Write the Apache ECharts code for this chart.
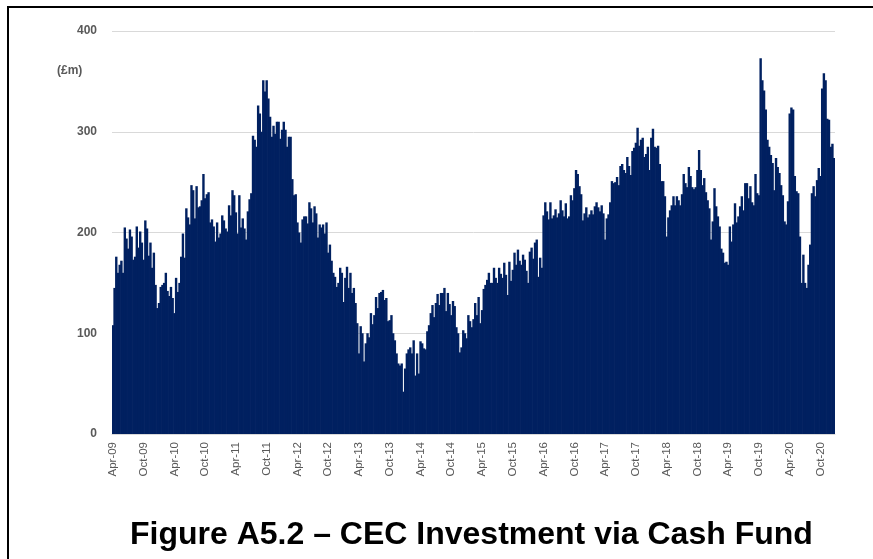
<!DOCTYPE html>
<html>
<head>
<meta charset="utf-8">
<script src="https://cdn.jsdelivr.net/npm/echarts@6/dist/echarts.min.js"></script>
<style>
    html, body { margin: 0; padding: 0; background: #fff; }
    #chart { width: 873px; height: 559px; }
</style>
</head>
<body>
<div id="chart"></div>
<script>
'use strict';

// month names, three readings per month (Apr-09 .. Dec-20)
const monthNames = ['Jan', 'Feb', 'Mar', 'Apr', 'May', 'Jun', 'Jul', 'Aug', 'Sep', 'Oct', 'Nov', 'Dec'];
const tickLabels = ['Apr-09', 'Oct-09', 'Apr-10', 'Oct-10', 'Apr-11', 'Oct-11', 'Apr-12', 'Oct-12',
    'Apr-13', 'Oct-13', 'Apr-14', 'Oct-14', 'Apr-15', 'Oct-15', 'Apr-16', 'Oct-16',
    'Apr-17', 'Oct-17', 'Apr-18', 'Oct-18', 'Apr-19', 'Oct-19', 'Apr-20', 'Oct-20'];

// £m, Apr-Dec 2009 then Jan-Dec of each year
const y2009 = [108, 145, 176, 160, 168, 172, 160, 205, 194, 184, 203, 196, 173, 176, 206,
    185, 201, 190, 173, 212, 204, 177, 190, 165, 180, 148, 125];
const y2010 = [130, 146, 148, 150, 160, 142, 137, 146, 135, 120, 155, 141, 150, 176, 199,
    175, 224, 215, 208, 247, 242, 214, 246, 225, 226, 232, 258, 234, 238, 240,
    210, 213, 206, 191, 210, 195];
const y2011 = [199, 217, 212, 204, 201, 227, 217, 242, 237, 220, 199, 237, 205, 214, 204,
    193, 221, 233, 239, 296, 292, 285, 326, 318, 300, 351, 340, 351, 333, 315,
    295, 306, 298, 310, 310, 293];
const y2012 = [302, 310, 302, 285, 295, 295, 253, 237, 238, 210, 200, 190, 213, 216, 216,
    209, 230, 224, 210, 226, 219, 195, 208, 205, 208, 199, 210, 180, 188, 172,
    160, 156, 146, 150, 165, 160];
const y2013 = [131, 155, 166, 145, 160, 140, 145, 130, 110, 80, 107, 100, 72, 90, 100,
    96, 120, 109, 118, 136, 125, 140, 141, 143, 133, 135, 112, 113, 118, 100,
    93, 80, 70, 68, 70, 42];
const y2014 = [65, 80, 84, 86, 80, 93, 58, 80, 60, 92, 90, 85, 84, 102, 108,
    120, 128, 116, 130, 139, 128, 140, 140, 145, 122, 140, 129, 118, 132, 127,
    106, 100, 81, 86, 103, 100];
const y2015 = [95, 118, 112, 106, 114, 130, 118, 136, 110, 123, 144, 148, 153, 160, 150,
    150, 165, 155, 150, 165, 159, 155, 170, 158, 138, 171, 152, 163, 180, 168,
    183, 172, 168, 178, 173, 162];
const y2016 = [150, 181, 185, 174, 190, 193, 156, 175, 165, 217, 230, 221, 213, 230, 214,
    217, 223, 215, 219, 232, 222, 216, 229, 214, 216, 237, 232, 244, 262, 258,
    246, 238, 212, 219, 225, 215];
const y2017 = [218, 222, 218, 226, 230, 225, 221, 227, 219, 193, 214, 218, 230, 251, 249,
    250, 255, 247, 266, 268, 262, 259, 275, 266, 257, 281, 284, 289, 304, 286,
    292, 294, 275, 278, 285, 262];
const y2018 = [294, 303, 285, 284, 286, 268, 251, 251, 236, 196, 215, 222, 227, 236, 227,
    236, 232, 227, 238, 258, 249, 245, 265, 256, 245, 243, 245, 262, 282, 262,
    247, 254, 240, 232, 224, 193];
const y2019 = [211, 244, 226, 216, 206, 184, 180, 170, 171, 168, 206, 191, 208, 229, 210,
    216, 226, 236, 222, 249, 249, 234, 246, 230, 227, 258, 239, 237, 373, 351,
    341, 322, 292, 285, 277, 269];
const y2020 = [242, 274, 265, 259, 247, 237, 211, 208, 231, 318, 324, 322, 256, 241, 239,
    196, 150, 178, 150, 145, 168, 188, 239, 246, 236, 252, 264, 256, 343, 358,
    351, 313, 312, 285, 288, 274];

const values = [].concat(y2009, y2010, y2011, y2012, y2013, y2014, y2015, y2016,
    y2017, y2018, y2019, y2020);

const categories = [];
for (let year = 2009; year <= 2020; year++) {
    for (let m = (year === 2009 ? 3 : 0); m < 12; m++) {
        for (let part = 1; part <= 3; part++) {
            categories.push(monthNames[m] + '-' + String(year).slice(2) + ' ' + part);
        }
    }
}

const perLabel = 18;
const showEvery = index => index % perLabel === 0;
const font = 'Liberation Sans, Arial, sans-serif';
const navy = '#002060';

const chart = echarts.init(document.getElementById('chart'));
chart.setOption({
    animation: false,
    grid: { left: 112, right: 38, top: 31, bottom: 125 },
    graphic: [
        {
            type: 'rect',
            shape: { x: 8, y: 7, width: 900, height: 700 },
            style: { fill: 'none', stroke: '#000', lineWidth: 2 },
            silent: true
        },
        {
            type: 'text',
            left: 57,
            top: 65,
            style: { text: '(£m)', fill: '#595959', font: 'bold 12px ' + font }
        },
        {
            type: 'text',
            left: 130,
            top: 519,
            style: { text: 'Figure A5.2 \u2013 CEC Investment via Cash Fund', fill: '#000', font: 'bold 32px ' + font }
        }
    ],
    xAxis: {
        type: 'category',
        data: categories,
        axisLine: { lineStyle: { color: '#d9d9d9' } },
        axisTick: { interval: showEvery, length: 5, lineStyle: { color: '#d9d9d9' } },
        axisLabel: {
            interval: showEvery,
            rotate: 90,
            margin: 8,
            color: '#595959',
            fontSize: 11.5,
            fontFamily: font,
            formatter: (value, index) => tickLabels[index / perLabel]
        }
    },
    yAxis: {
        type: 'value',
        min: 0,
        max: 400,
        interval: 100,
        axisLabel: { color: '#595959', fontSize: 12, fontWeight: 'bold', fontFamily: font, margin: 15 },
        splitLine: { lineStyle: { color: '#d9d9d9' } }
    },
    series: [
        {
            type: 'bar',
            data: values,
            barWidth: 2.4,
            itemStyle: { color: navy }
        }
    ]
});
</script>
</body>
</html>
